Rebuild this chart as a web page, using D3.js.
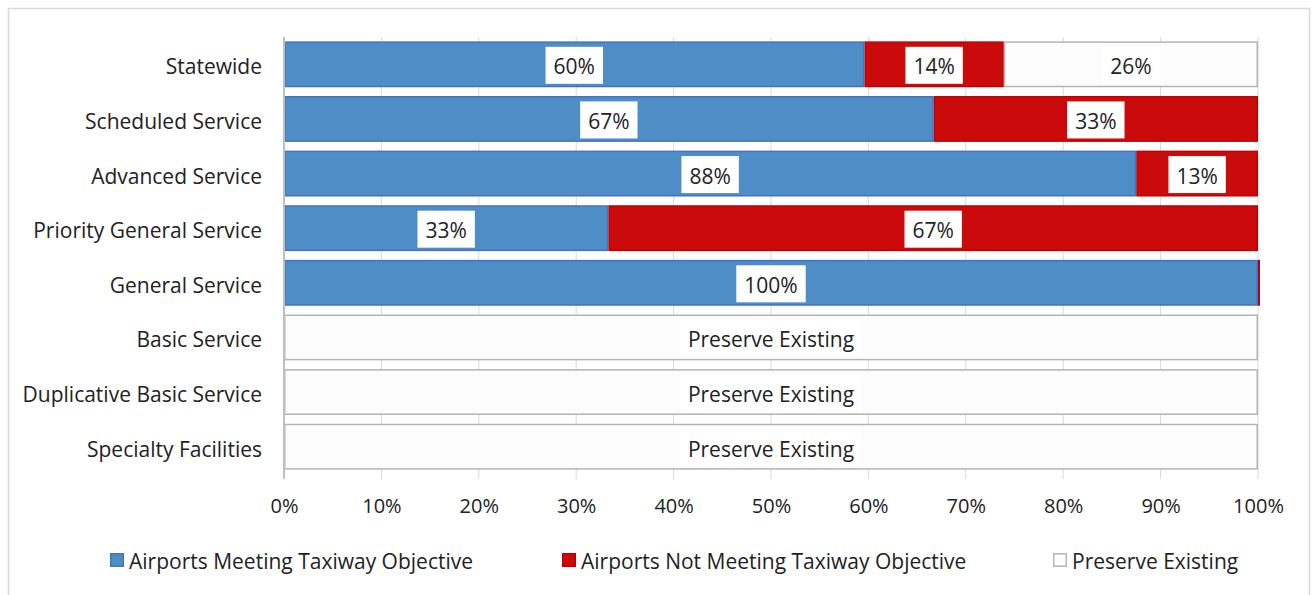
<!DOCTYPE html>
<html>
<head>
<meta charset="utf-8">
<script src="https://cdn.jsdelivr.net/npm/d3@7"></script>
<style>
  body { margin: 0; background: #fff; }
  svg text { font-family: "Open Sans", "Noto Sans", sans-serif; fill: #222; }
</style>
</head>
<body>
<div id="chart"></div>
<script>
// categories, top to bottom
var categories = ["Statewide", "Scheduled Service", "Advanced Service", "Priority General Service",
  "General Service", "Basic Service", "Duplicative Basic Service", "Specialty Facilities"];

// percent values per series (null = not applicable)
var meeting    = [59.6, 66.7, 87.5, 33.3, 100, null, null, null];
var notMeeting = [14.3, 33.3, 12.5, 66.7, 0,   null, null, null];
var preserve   = [26.1, null, null, null, null, 100, 100, 100];

var seriesNames = ["Airports Meeting Taxiway Objective", "Airports Not Meeting Taxiway Objective", "Preserve Existing"];
var xTicks = [0, 10, 20, 30, 40, 50, 60, 70, 80, 90, 100];

var W = 1312, H = 595;
var margin = {top: 37, right: 54, bottom: 121, left: 284};
var width = W - margin.left - margin.right,
    height = H - margin.top - margin.bottom;

var fills = ["#4f8dc6", "#cb0b0b", "#fcfcfc"];
var strokes = ["#4472c4", "#c00000", "#b4b4b4"];
var fontSize = "21px";

var svg = d3.select("#chart").append("svg")
  .attr("width", W).attr("height", H);

// outer frame
svg.append("rect")
  .attr("x", 8.5).attr("y", 8.5)
  .attr("width", W - 11).attr("height", H)
  .attr("fill", "#fff").attr("stroke", "#d9d9d9").attr("stroke-width", 1.5);

var g = svg.append("g")
  .attr("transform", "translate(" + margin.left + "," + margin.top + ")");

var xScale = d3.scaleLinear().domain([0, 100]).range([0, width]);
var yScale = d3.scaleBand().domain(categories).range([0, height]).paddingInner(0.16).paddingOuter(0.08);

// gridlines
g.selectAll(".grid").data(xTicks).enter().append("line")
  .attr("x1", function(d) { return xScale(d); })
  .attr("x2", function(d) { return xScale(d); })
  .attr("y1", 0).attr("y2", height + 5)
  .attr("stroke", "#d9d9d9").attr("stroke-width", 1);

// build segments with running totals
var segs = [];
categories.forEach(function(c, i) {
  var vals = [meeting[i], notMeeting[i], preserve[i]];
  var x0 = 0;
  vals.forEach(function(v, s) {
    if (v === null) return;
    segs.push({cat: c, s: s, v: v, x0: x0, x1: x0 + v});
    x0 += v;
  });
});

g.selectAll(".seg").data(segs).enter().append("rect")
  .attr("x", function(d) { return xScale(d.x0) + 0.75; })
  .attr("y", function(d) { return yScale(d.cat) + 0.75; })
  .attr("width", function(d) { return Math.max(xScale(d.x1) - xScale(d.x0) - 1.5, 0.5); })
  .attr("height", yScale.bandwidth() - 1.5)
  .attr("fill", function(d) { return fills[d.s]; })
  .attr("stroke", function(d) { return strokes[d.s]; })
  .attr("stroke-width", 1.5);

// data labels in white boxes
segs.filter(function(d) { return d.v > 0; }).forEach(function(d) {
  var label = (d.s === 2 && d.v === 100) ? "Preserve Existing" : Math.round(d.v) + "%";
  var cx = (xScale(d.x0) + xScale(d.x1)) / 2, cy = yScale(d.cat) + yScale.bandwidth() / 2;
  var box = g.append("rect").attr("fill", "#fff");
  var t = g.append("text")
    .attr("x", cx).attr("y", cy + 2)
    .attr("text-anchor", "middle")
    .attr("dominant-baseline", "central")
    .style("font-size", fontSize)
    .text(label);
  var bb = t.node().getBBox();
  box.attr("x", bb.x - 8).attr("y", cy - 17.5)
    .attr("width", bb.width + 16).attr("height", 37);
});

// y axis line
g.append("line")
  .attr("x1", 0).attr("x2", 0).attr("y1", 0).attr("y2", height + 5)
  .attr("stroke", "#bfbfbf").attr("stroke-width", 2);

// category labels
g.selectAll(".cat").data(categories).enter().append("text")
  .attr("x", -22)
  .attr("y", function(d) { return yScale(d) + yScale.bandwidth() / 2 + 2; })
  .attr("text-anchor", "end")
  .attr("dominant-baseline", "central")
  .style("font-size", fontSize)
  .text(function(d) { return d; });

// x axis labels
var xAxis = g.append("g")
  .attr("transform", "translate(0," + (height + 22) + ")")
  .call(d3.axisBottom(xScale).tickValues(xTicks).tickSize(0).tickFormat(function(d) { return d + "%"; }));
xAxis.select(".domain").remove();
xAxis.selectAll("text").style("font-size", "20px").attr("fill", "#222")
  .style("font-family", "\"Open Sans\", \"Noto Sans\", sans-serif");

// legend
var legendX = [110, 562, 1053];
var lg = svg.append("g").attr("transform", "translate(0,560)");
seriesNames.forEach(function(name, s) {
  lg.append("rect")
    .attr("x", legendX[s] + 0.75).attr("y", -6.25)
    .attr("width", 12.5).attr("height", 12.5)
    .attr("fill", fills[s]).attr("stroke", strokes[s]).attr("stroke-width", 1.5);
  lg.append("text")
    .attr("x", legendX[s] + 19).attr("y", 1)
    .attr("dominant-baseline", "central")
    .style("font-size", fontSize)
    .text(name);
});
</script>
</body>
</html>
